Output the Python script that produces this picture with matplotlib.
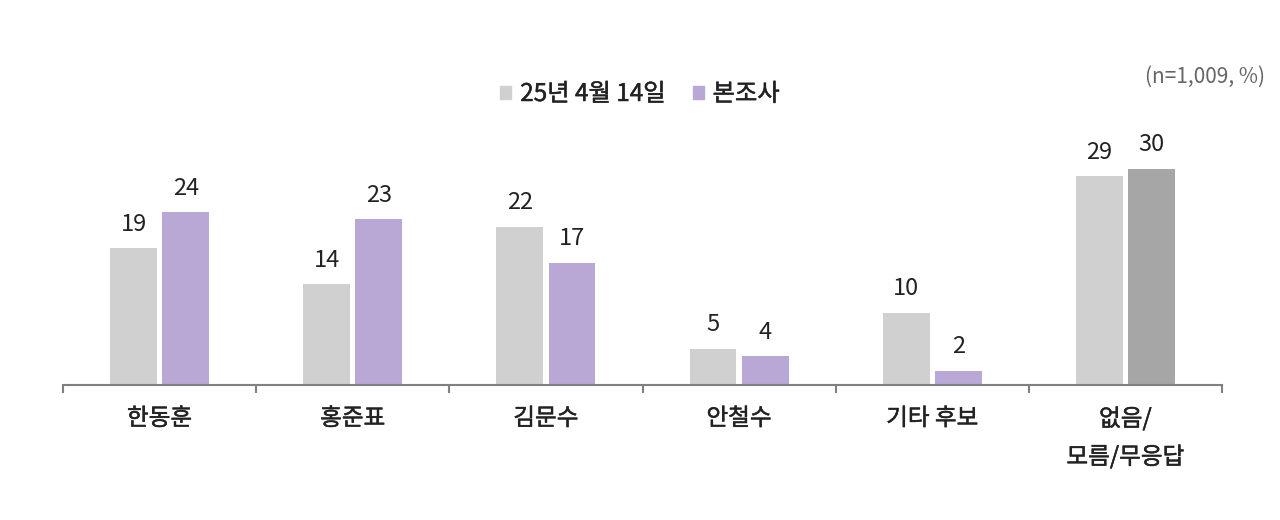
import matplotlib
matplotlib.use("Agg")
import matplotlib.pyplot as plt
import matplotlib.patheffects as pe
import numpy as np
from matplotlib.patches import Patch

plt.rcParams['font.family'] = ['Noto Sans CJK KR', 'DejaVu Sans']

categories = ["한동훈", "홍준표", "김문수", "안철수", "기타 후보", "없음/\n모름/무응답"]
prev_vals = [19, 14, 22, 5, 10, 29]
curr_vals = [24, 23, 17, 4, 2, 30]
series_names = ["25년 4월 14일", "본조사"]
note = "(n=1,009, %)"

c_prev = "#D0D0D0"
c_curr = "#B9A7D5"
c_last = "#A6A6A6"
text_c = "#222222"
thick = [pe.withStroke(linewidth=0.35, foreground=text_c)]

fig = plt.figure(figsize=(12.8, 5.2), dpi=100)
ax = fig.add_axes([63/1280, 1-385/520, (1222-63)/1280, 286/520])

x = np.arange(len(categories))
w = 0.243
off = 0.135
curr_colors = [c_curr]*(len(categories)-1) + [c_last]
b1 = ax.bar(x - off, prev_vals, w, color=c_prev, label=series_names[0])
b2 = ax.bar(x + off, curr_vals, w, color=curr_colors, label=series_names[1])

for bars, vals in ((b1, prev_vals), (b2, curr_vals)):
    for r, v in zip(bars, vals):
        ax.annotate(f"{v}", (r.get_x() + r.get_width()/2, r.get_height()),
                    xytext=(0, 9), textcoords="offset points",
                    ha="center", va="bottom", fontsize=17, color=text_c)

ax.set_xlim(-0.5, len(categories) - 0.5)
ax.set_ylim(0, 39.7)
for s in ("top", "right", "left"):
    ax.spines[s].set_visible(False)
ax.spines["bottom"].set_color("#808080")
ax.spines["bottom"].set_linewidth(1.5)
ax.set_yticks([])
ax.set_xticks(x)
ax.set_xticklabels(categories, fontsize=17, color=text_c, linespacing=1.75, va="top")
for t in ax.get_xticklabels():
    t.set_path_effects(thick)
ax.tick_params(axis="x", which="major", length=0, pad=16)
ax.set_xticks(np.arange(-0.5, len(categories)), minor=True)
ax.tick_params(axis="x", which="minor", length=6, width=1.5, color="#808080", direction="out")

handles = [Patch(color=c_prev), Patch(color=c_curr)]
leg = fig.legend(handles, series_names, loc="center", bbox_to_anchor=(0.5, 1-94/520),
                 ncol=2, frameon=False, handlelength=0.45, handleheight=0.45,
                 handletextpad=0.37, columnspacing=1.1, labelcolor=text_c,
                 prop={"size": 17.5})
for t in leg.get_texts():
    t.set_path_effects(thick)

fig.text(1265/1280, 1-77/520, note, ha="right", va="center", fontsize=15, color="#666666")

fig.savefig("out.png", dpi=100, facecolor="white")
